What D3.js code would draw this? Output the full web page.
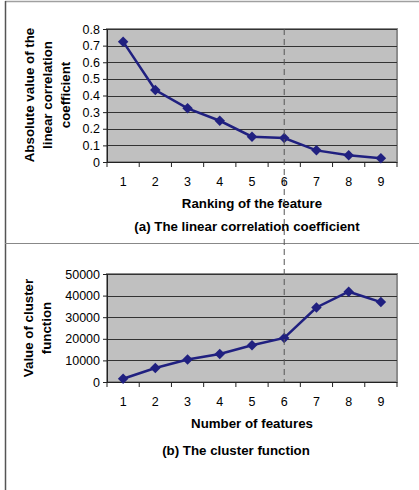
<!DOCTYPE html>
<html>
<head>
<meta charset="utf-8">
<script src="https://cdn.jsdelivr.net/npm/d3@7"></script>
<style>
    body { margin: 0; background: #fff; }
    svg { display: block; font-family: "Liberation Sans", Arial, sans-serif; }
    .tick-label { font-size: 12.5px; fill: #000; }
    .title { font-size: 13.3px; font-weight: bold; fill: #000; }
</style>
</head>
<body>
<svg id="chart" width="419" height="490"></svg>
<script>
// ranking / number of features
const features = [1, 2, 3, 4, 5, 6, 7, 8, 9];

// (a) absolute value of the linear correlation coefficient
const correlation = [0.724, 0.433, 0.323, 0.248, 0.152, 0.144, 0.070, 0.040, 0.022];
const correlationTicks = [0, 0.1, 0.2, 0.3, 0.4, 0.5, 0.6, 0.7, 0.8];

// (b) value of the cluster function
const clusterValue = [1500, 6500, 10400, 13000, 17000, 20400, 34500, 41800, 37000];
const clusterTicks = [0, 10000, 20000, 30000, 40000, 50000];

const selectedFeature = 6;

const svg = d3.select("#chart");

// outer frame of the figure
svg.append("line").attr("x1", 5).attr("x2", 419).attr("y1", 1.5).attr("y2", 1.5)
    .attr("stroke", "#a0a0a0").attr("stroke-width", 1.5);
svg.append("line").attr("x1", 5.5).attr("x2", 5.5).attr("y1", 1).attr("y2", 490)
    .attr("stroke", "#555").attr("stroke-width", 1.5);
svg.append("line").attr("x1", 5).attr("x2", 419).attr("y1", 243.5).attr("y2", 243.5)
    .attr("stroke", "#888").attr("stroke-width", 1);

const plotLeft = 107, plotRight = 397;

const x = d3.scaleBand()
    .domain(features)
    .range([plotLeft, plotRight]);

function drawPanel(cfg) {
    const y = d3.scaleLinear()
        .domain([0, d3.max(cfg.ticks)])
        .range([cfg.bottom, cfg.top]);

    const g = svg.append("g");

    // plot area
    g.append("rect")
        .attr("x", plotLeft).attr("y", cfg.top)
        .attr("width", plotRight - plotLeft).attr("height", cfg.bottom - cfg.top)
        .attr("fill", "#c0c0c0")
        .attr("stroke", "#8c8c8c").attr("stroke-width", 2);

    // gridlines
    g.append("g").selectAll("line")
        .data(cfg.ticks.filter(t => t > 0))
        .enter().append("line")
        .attr("x1", plotLeft).attr("x2", plotRight)
        .attr("y1", d => Math.round(y(d)) + 0.5).attr("y2", d => Math.round(y(d)) + 0.5)
        .attr("stroke", "#333").attr("stroke-width", 1);

    // y axis
    const yAxis = d3.axisLeft(y)
        .tickValues(cfg.ticks)
        .tickSize(4)
        .tickPadding(3)
        .tickFormat(cfg.format);
    const ya = g.append("g")
        .attr("transform", `translate(${plotLeft},0)`)
        .call(yAxis);
    ya.select(".domain").attr("stroke", "#222");
    ya.selectAll(".tick line").attr("stroke", "#222");
    ya.selectAll(".tick text").attr("class", "tick-label").attr("font-size", null)
        .attr("font-family", null);

    // x axis with ticks on category boundaries
    const xa = g.append("g");
    xa.append("line")
        .attr("x1", plotLeft).attr("x2", plotRight)
        .attr("y1", cfg.bottom + 0.5).attr("y2", cfg.bottom + 0.5)
        .attr("stroke", "#222");
    const bounds = features.map(f => x(f)).concat([plotRight]);
    xa.selectAll(".xtick").data(bounds).enter().append("line")
        .attr("x1", d => d).attr("x2", d => d)
        .attr("y1", cfg.bottom).attr("y2", cfg.bottom + 5)
        .attr("stroke", "#222");
    xa.selectAll(".xlabel").data(features).enter().append("text")
        .attr("class", "tick-label")
        .attr("x", d => x(d) + x.bandwidth() / 2)
        .attr("y", cfg.bottom + 24)
        .attr("text-anchor", "middle")
        .text(d => d);

    // series line and diamond markers
    const points = features.map((f, i) => ({x: f, y: cfg.values[i]}));
    const line = d3.line()
        .x(d => x(d.x) + x.bandwidth() / 2)
        .y(d => y(d.y));
    g.append("path")
        .datum(points)
        .attr("d", line)
        .attr("fill", "none")
        .attr("stroke", "#202080")
        .attr("stroke-width", 2.5);
    g.append("g").selectAll("path")
        .data(points)
        .enter().append("path")
        .attr("d", d3.symbol(d3.symbolDiamond2, 70))
        .attr("transform", d => `translate(${x(d.x) + x.bandwidth() / 2},${y(d.y)})`)
        .attr("fill", "#202080");

    // y axis title
    const yTitle = g.append("text")
        .attr("class", "title")
        .attr("text-anchor", "middle")
        .attr("transform", `translate(${cfg.yTitleX},${cfg.yTitleMid}) rotate(-90)`);
    cfg.yTitle.forEach((t, i) => {
        yTitle.append("tspan")
            .attr("x", 0)
            .attr("y", i * 17.8)
            .text(t);
    });

    // x axis title and caption
    g.append("text")
        .attr("class", "title")
        .attr("x", 252).attr("y", cfg.bottom + 46)
        .attr("text-anchor", "middle")
        .text(cfg.xTitle);
    g.append("text")
        .attr("class", "title")
        .attr("x", cfg.captionX).attr("y", cfg.captionY)
        .attr("text-anchor", "middle")
        .text(cfg.caption);

    return y;
}

drawPanel({
    top: 29, bottom: 162,
    ticks: correlationTicks,
    values: correlation,
    format: d => d === 0 ? "0" : d3.format(".1f")(d),
    yTitle: ["Absolute value of the", "linear correlation", "coefficient"],
    yTitleX: 34, yTitleMid: 95,
    xTitle: "Ranking of the feature",
    caption: "(a) The linear correlation coefficient",
    captionX: 247, captionY: 231
});

drawPanel({
    top: 274, bottom: 382,
    ticks: clusterTicks,
    values: clusterValue,
    format: d3.format("d"),
    yTitle: ["Value of cluster", "function"],
    yTitleX: 33, yTitleMid: 328,
    xTitle: "Number of features",
    caption: "(b) The cluster function",
    captionX: 236, captionY: 455
});

// dashed marker for the selected feature, spanning both panels
const xSel = x(selectedFeature) + x.bandwidth() / 2;
svg.append("line")
    .attr("x1", xSel).attr("x2", xSel)
    .attr("y1", 29).attr("y2", 382)
    .attr("stroke", "#555")
    .attr("stroke-width", 1)
    .attr("stroke-dasharray", "6,4");
</script>
</body>
</html>
